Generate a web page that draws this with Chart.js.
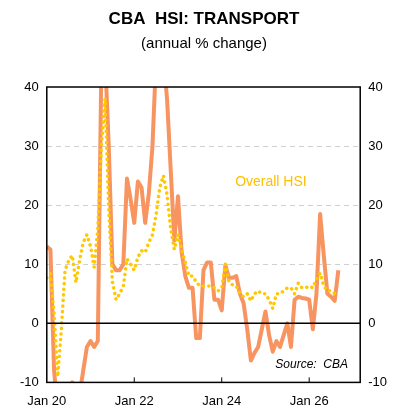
<!DOCTYPE html>
<html><head><meta charset="utf-8">
<script src="https://cdn.jsdelivr.net/npm/chart.js@4"></script>
<style>html,body{margin:0;padding:0;background:#fff}#w{width:409px;height:420px}</style>
</head><body><div id="w"><canvas id="c"></canvas></div>
<script>
const tickLabels = {0:'Jan 20',24:'Jan 22',48:'Jan 24',72:'Jan 26'};
const transport = [13,12.5,-8,-15,-15,-14,-12,-10,-11,-12,-8,-4,-3,-4,-3,45,45,30,10,9,9,10,24.5,21,17,24,23,17,22,30,45,45,45,38,26,14,21.5,12,8,6,6,-2.5,-2.5,9,10.3,10.3,4,4,2.2,9.8,7.7,7.7,8,5,3.4,-1,-6.3,-5,-4,-1,2,-2,-4.8,-3,-4,-2,0,-4,4,4.5,4.3,4.2,4,-1,5,18.5,11.5,5,4.5,3.8,9];
const overall = [7.7,8.4,1.7,-9,-1,9,10.6,11.5,6.9,10.6,13.7,15,13,9.5,16,30,38,19.4,7,4,5,6.3,10.9,10,9,11.2,12.3,12,13.7,15,18.4,23,25,21.8,16,12.5,15,12.5,10.3,8,8,7,6.3,6.3,6.3,6.3,6,5.5,6,10,7,6.5,6.3,5,4.5,5,3.8,5,5.5,5,5,4,2.5,5,5,5.5,6,6,5,6.8,6,6,6.3,6,7.5,8.5,6.3,5.5,5.5,5];
const pts = a => a.map((v,i)=>({x:i,y:v}));
const FONT = "'Liberation Sans', Arial, sans-serif";
const deco = {
  id:'deco',
  afterDraw(ch){
    const {ctx, chartArea:a, scales:{x,y}} = ch;
    ctx.save();
    ctx.strokeStyle='#000'; ctx.lineWidth=1.5;
    ctx.strokeRect(a.left,a.top,a.right-a.left,a.bottom-a.top);
    ctx.beginPath(); ctx.moveTo(a.left,y.getPixelForValue(0)); ctx.lineTo(a.right,y.getPixelForValue(0)); ctx.stroke();
    ctx.lineWidth=1;
    [24,48,72].forEach(v=>{const px=x.getPixelForValue(v);ctx.beginPath();ctx.moveTo(px,a.bottom);ctx.lineTo(px,a.bottom-5);ctx.stroke();});
    ctx.textAlign='center'; ctx.fillStyle='#000';
    ctx.font="bold 17px "+FONT; ctx.fillText('CBA  HSI: TRANSPORT',204,24);
    ctx.font="15px "+FONT; ctx.fillText('(annual % change)',204,48);
    ctx.fillStyle='#FFC000'; ctx.font="14px "+FONT;
    ctx.fillText('Overall HSI', x.getPixelForValue(61.5), y.getPixelForValue(23.3));
    ctx.fillStyle='#000'; ctx.font="italic 12px "+FONT; ctx.textAlign='left';
    ctx.fillText('Source:  CBA', x.getPixelForValue(62.7), y.getPixelForValue(-7.6));
    ctx.restore();
  }
};
new Chart(document.getElementById('c'),{
  type:'line',
  data:{datasets:[
    {data:pts(overall),borderColor:'#FFC800',borderWidth:3.5,borderDash:[0.1,5.5],borderCapStyle:'round',pointRadius:0,tension:0},
    {data:pts(transport),borderColor:'#F79460',borderWidth:4,pointRadius:0,tension:0,borderJoinStyle:'round'}
  ]},
  options:{responsive:true,maintainAspectRatio:false,animation:false,
    layout:{padding:{top:87,bottom:8,left:12,right:14}},
    plugins:{legend:{display:false},tooltip:{enabled:false}},
    scales:{
      x:{type:'linear',min:0,max:86,grid:{display:false},
        ticks:{stepSize:24,autoSkip:false,maxRotation:0,color:'#000',font:{family:FONT,size:13},callback:v=>tickLabels[v]??''}},
      y:{position:'left',min:-10,max:40,
        grid:{drawTicks:false,color:c=>[10,20,30].includes(c.tick.value)?'#d0d0d0':'transparent'},
        border:{display:false,dash:[5,4]},
        ticks:{stepSize:10,padding:8,color:'#000',font:{family:FONT,size:13}}},
      y2:{position:'right',min:-10,max:40,border:{display:false},grid:{display:false,drawTicks:false},
        ticks:{stepSize:10,padding:8,color:'#000',font:{family:FONT,size:13}}}
    }
  },
  plugins:[deco]
});
</script></body></html>
